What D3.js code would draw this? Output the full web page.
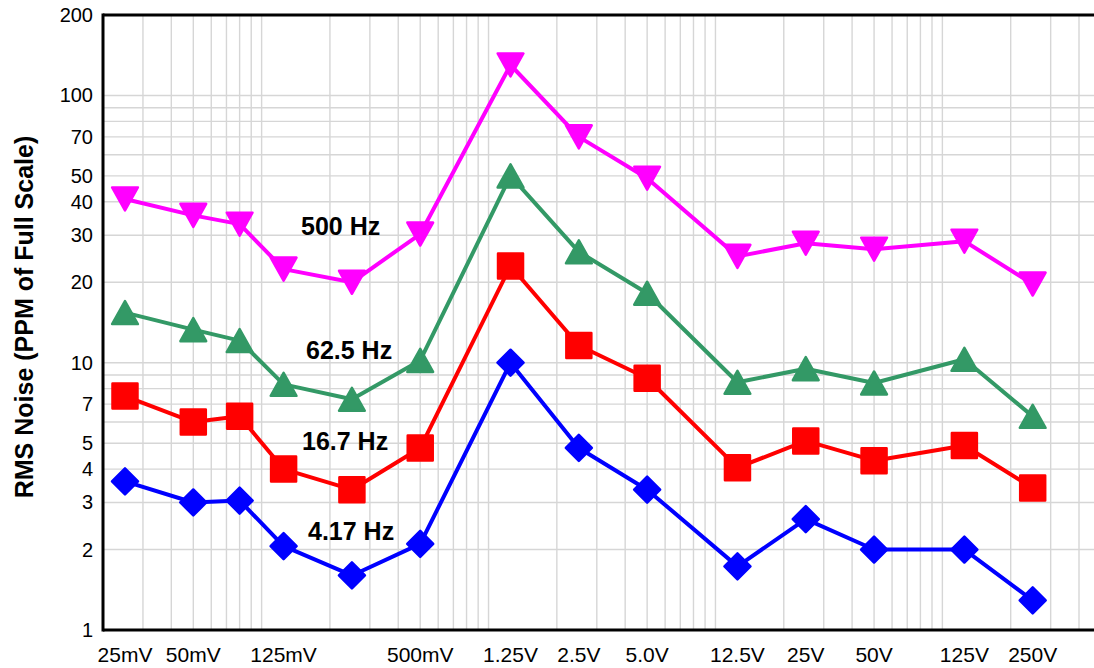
<!DOCTYPE html>
<html>
<head>
<meta charset="utf-8">
<script src="https://cdn.jsdelivr.net/npm/d3@7"></script>
<style>
  html, body { margin: 0; padding: 0; background: #fff; }
  svg { display: block; }
  text { font-family: "Liberation Sans", Arial, Helvetica, sans-serif; fill: #000; }
</style>
</head>
<body>
<svg id="chart" width="1094" height="668"></svg>
<script>
// Input ranges (volts) at which noise was measured
const ranges = [0.025, 0.05, 0.08, 0.125, 0.25, 0.5, 1.25, 2.5, 5, 12.5, 25, 50, 125, 250];

// RMS noise in PPM of full scale, one array per output data rate
const noise4_17Hz = [3.6, 3.0, 3.05, 2.06, 1.6, 2.1, 10.0, 4.8, 3.35, 1.73, 2.6, 2.0, 2.0, 1.29];
const noise16_7Hz = [7.5, 6.0, 6.3, 4.0, 3.35, 4.8, 23, 11.6, 8.75, 4.05, 5.1, 4.3, 4.9, 3.4];
const noise62_5Hz = [15.4, 13.3, 12.1, 8.3, 7.3, 10.2, 50, 26, 18.2, 8.45, 9.5, 8.4, 10.3, 6.3];
const noise500Hz  = [41, 35.6, 33, 22.4, 20, 30.3, 130, 70, 49, 25, 28, 26.6, 28.5, 19.7];

const seriesNames = ["4.17 Hz", "16.7 Hz", "62.5 Hz", "500 Hz"];

// Labelled ranges on the x axis
const xTickValues = [0.025, 0.05, 0.125, 0.5, 1.25, 2.5, 5, 12.5, 25, 50, 125, 250];
const xTickLabels = ["25mV", "50mV", "125mV", "500mV", "1.25V", "2.5V", "5.0V", "12.5V", "25V", "50V", "125V", "250V"];

// Labelled values on the y axis
const yTickValues = [1, 2, 3, 4, 5, 7, 10, 20, 30, 40, 50, 70, 100, 200];

const svg = d3.select("#chart");
const W = 1094, H = 668;
const plotL = 103, plotT = 15, plotB = 630, plotR = 1101;

const x = d3.scaleLog().domain([0.02, 500]).range([plotL, plotR]);
const y = d3.scaleLog().domain([1, 200]).range([plotB, plotT]);

// ---- grid ----
const grid = svg.append("g").attr("stroke", "#d6d6d6").attr("stroke-width", 1.4);
const xGrid = x.ticks().filter(v => v > 0.02 && x(v) < W);
grid.selectAll("line.vx").data(xGrid).join("line")
  .attr("x1", d => x(d)).attr("x2", d => x(d))
  .attr("y1", plotT).attr("y2", plotB);
const yGrid = y.ticks().filter(v => v > 1 && v < 200);
grid.selectAll("line.hy").data(yGrid).join("line")
  .attr("x1", plotL).attr("x2", W)
  .attr("y1", d => y(d)).attr("y2", d => y(d));

// ---- marker shapes ----
const shapes = {
  diamond: r => `M0,${-r}L${r},0L0,${r}L${-r},0Z`,
  square: r => `M${-r},${-r}H${r}V${r}H${-r}Z`,
  triUp: r => `M0,${-r}L${r * 1.12},${r}L${-r * 1.12},${r}Z`,
  triDown: r => `M0,${r}L${r * 1.12},${-r}L${-r * 1.12},${-r}Z`
};

const series = [
  { name: seriesNames[3], values: noise500Hz,  color: "#ff00ff", shape: "triDown", r: 11.5 },
  { name: seriesNames[2], values: noise62_5Hz, color: "#339966", shape: "triUp",   r: 11.5 },
  { name: seriesNames[1], values: noise16_7Hz, color: "#ff0000", shape: "square",  r: 12.5 },
  { name: seriesNames[0], values: noise4_17Hz, color: "#0000ff", shape: "diamond", r: 13 }
];

const line = d3.line().x(d => x(d[0])).y(d => y(d[1]));

series.forEach(s => {
  const pts = ranges.map((v, i) => [v, s.values[i]]);
  const g = svg.append("g");
  g.append("path")
    .attr("d", line(pts))
    .attr("fill", "none")
    .attr("stroke", s.color)
    .attr("stroke-width", 4)
    .attr("stroke-linejoin", "round");
  g.selectAll("path.m").data(pts).join("path")
    .attr("class", "m")
    .attr("transform", d => `translate(${x(d[0])},${y(d[1])})`)
    .attr("d", shapes[s.shape](s.r))
    .attr("fill", s.color)
    .attr("stroke", s.color)
    .attr("stroke-width", 2.5)
    .attr("stroke-linejoin", "round");
});

// ---- series labels ----
const labelSpots = [
  { name: seriesNames[3], px: 301, py: 235 },
  { name: seriesNames[2], px: 306, py: 359 },
  { name: seriesNames[1], px: 302, py: 450 },
  { name: seriesNames[0], px: 308, py: 540 }
];
svg.append("g").selectAll("text").data(labelSpots).join("text")
  .attr("x", d => d.px).attr("y", d => d.py)
  .attr("font-size", 25).attr("font-weight", "bold")
  .text(d => d.name);

// ---- axes frame ----
const frame = svg.append("g").attr("stroke", "#000").attr("stroke-width", 3);
frame.append("line").attr("x1", plotL).attr("x2", W).attr("y1", plotT).attr("y2", plotT);
frame.append("line").attr("x1", plotL).attr("x2", W).attr("y1", plotB).attr("y2", plotB);
frame.append("line").attr("x1", plotL).attr("x2", plotL).attr("y1", plotT - 1.5).attr("y2", plotB + 1.5);

// ---- y tick labels ----
svg.append("g").selectAll("text").data(yTickValues).join("text")
  .attr("x", 93).attr("y", d => y(d))
  .attr("dy", "0.35em")
  .attr("text-anchor", "end")
  .attr("font-size", 20)
  .text(d => d);

// ---- x tick labels ----
svg.append("g").selectAll("text").data(xTickValues).join("text")
  .attr("x", d => x(d)).attr("y", 662)
  .attr("text-anchor", "middle")
  .attr("font-size", 21)
  .text((d, i) => xTickLabels[i]);

// ---- y axis title ----
svg.append("text")
  .attr("transform", "translate(33,317) rotate(-90)")
  .attr("text-anchor", "middle")
  .attr("font-size", 25)
  .attr("font-weight", "bold")
  .text("RMS Noise (PPM of Full Scale)");
</script>
</body>
</html>
